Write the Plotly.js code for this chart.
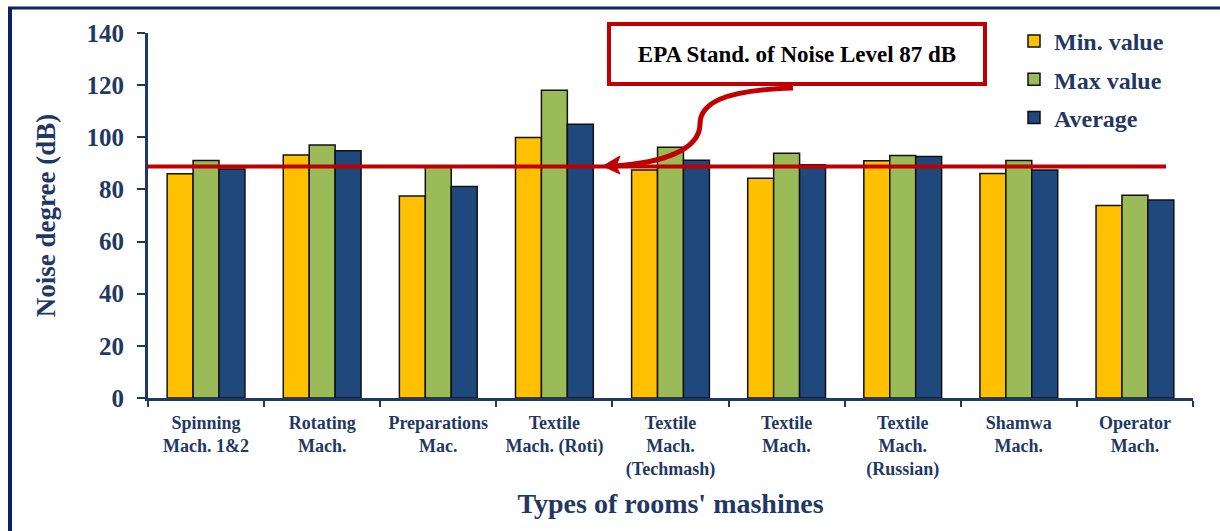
<!DOCTYPE html>
<html>
<head>
<meta charset="utf-8">
<script src="https://cdn.plot.ly/plotly-3.0.1.min.js"></script>
<style>
  html, body { margin: 0; padding: 0; background: #ffffff; }
  #chart { width: 1220px; height: 531px; }
</style>
</head>
<body>
<div id="chart"></div>
<script>
// ---- Data ----
const categories = [
  "Spinning<br>Mach. 1&2",
  "Rotating<br>Mach.",
  "Preparations<br>Mac.",
  "Textile<br>Mach. (Roti)",
  "Textile<br>Mach.<br>(Techmash)",
  "Textile<br>Mach.",
  "Textile<br>Mach.<br>(Russian)",
  "Shamwa<br>Mach.",
  "Operator<br>Mach."
];
const minValues = [86, 93.2, 77.5, 99.9, 87.5, 84.3, 91, 86.1, 73.8];
const maxValues = [91.1, 97, 88.5, 118, 96.2, 93.9, 93, 91.1, 77.8];
const avgValues = [87.8, 94.8, 81.1, 105, 91.2, 89.5, 92.6, 87.5, 75.9];
const seriesNames = ["Min. value", "Max value", "Average"];
const epaLevel = 88.8;   // drawn position of the EPA standard line
const epaLabel = "EPA Stand. of Noise Level 87 dB";
const yTicks = [0, 20, 40, 60, 80, 100, 120, 140];

// ---- Layout helpers (pixel -> paper) ----
const W = 1220, H = 531;
const mL = 148, mR = 27, mT = 33, mB = 133;
const pw = W - mL - mR, ph = H - mT - mB;
const px = x => (x - mL) / pw;
const py = y => (H - mB - y) / ph;

const navy = "#1F3864";
const red = "#C00000";
const serif = "Liberation Serif, Times New Roman, serif";

const colors = ["#FFC000", "#9BBB59", "#1F497D"];
const values = [minValues, maxValues, avgValues];

const traces = values.map((v, i) => ({
  type: "bar",
  x: categories,
  y: v,
  name: seriesNames[i],
  legendgroup: "g" + i,
  marker: { color: colors[i], line: { color: "#111111", width: 1.5 } },
  hoverinfo: "x+y+name"
}));

const curvePath = "M " + px(793) + "," + py(88) +
  " C " + px(722) + "," + py(90) + " " + px(700) + "," + py(104) + " " + px(700) + "," + py(124) +
  " C " + px(700) + "," + py(150) + " " + px(662) + "," + py(163) + " " + px(614) + "," + py(166);
const headPath = "M " + px(603) + "," + py(166) +
  " L " + px(620) + "," + py(156) +
  " L " + px(616) + "," + py(166) +
  " L " + px(620) + "," + py(174) + " Z";

const layout = {
  width: W, height: H,
  margin: { l: mL, r: mR, t: mT, b: mB, pad: 0 },
  paper_bgcolor: "#ffffff",
  plot_bgcolor: "#ffffff",
  barmode: "group",
  bargap: 0.33,
  bargroupgap: 0,
  showlegend: true,
  legend: {
    x: px(1014), y: py(19), xanchor: "left", yanchor: "top",
    font: { family: serif, size: 24, color: navy, weight: "bold" },
    bgcolor: "rgba(0,0,0,0)",
    tracegroupgap: 4,
    itemwidth: 30
  },
  xaxis: {
    type: "category",
    showline: true, linecolor: navy, linewidth: 3,
    ticks: "outside", tickson: "boundaries", ticklen: 6, tickwidth: 2, tickcolor: navy,
    ticklabelstandoff: 6,
    tickfont: { family: serif, size: 18, color: navy, weight: "bold" },
    showgrid: false, zeroline: false,
    title: {
      text: "Types of rooms' mashines",
      font: { family: serif, size: 28, color: navy, weight: "bold" },
      standoff: 14
    }
  },
  yaxis: {
    range: [0, 140],
    tickvals: yTicks,
    showline: true, linecolor: navy, linewidth: 3,
    ticks: "outside", ticklen: 8, tickwidth: 2, tickcolor: navy,
    ticklabelstandoff: 8,
    tickfont: { family: serif, size: 25, color: navy, weight: "bold" },
    showgrid: false, zeroline: false,
    title: {
      text: "Noise degree (dB)",
      font: { family: serif, size: 27, color: navy, weight: "bold" },
      standoff: 24
    }
  },
  shapes: [
    // outer frame (left and top edges)
    { type: "line", xref: "paper", yref: "paper", x0: px(10), x1: px(10), y0: py(7), y1: py(531),
      line: { color: "#0B2265", width: 4 } },
    { type: "line", xref: "paper", yref: "paper", x0: px(8), x1: px(1220), y0: py(8), y1: py(8),
      line: { color: "#0B2265", width: 3 } },
    // EPA standard line
    { type: "line", xref: "paper", yref: "y", x0: 0, x1: px(1166), y0: epaLevel, y1: epaLevel,
      line: { color: red, width: 4 } },
    // curved arrow
    { type: "path", xref: "paper", yref: "paper", path: curvePath,
      line: { color: red, width: 5 } },
    { type: "path", xref: "paper", yref: "paper", path: headPath,
      fillcolor: red, line: { color: red, width: 1 } }
  ],
  annotations: [
    {
      xref: "paper", yref: "paper",
      x: px(797), y: py(54), xanchor: "center", yanchor: "middle",
      text: epaLabel, showarrow: false,
      font: { family: serif, size: 23, color: "#000000", weight: "bold" },
      bgcolor: "#ffffff", bordercolor: red, borderwidth: 4, borderpad: 0,
      width: 372, height: 56
    }
  ]
};

Plotly.newPlot("chart", traces, layout, { displayModeBar: false, staticPlot: true });
</script>
</body>
</html>
